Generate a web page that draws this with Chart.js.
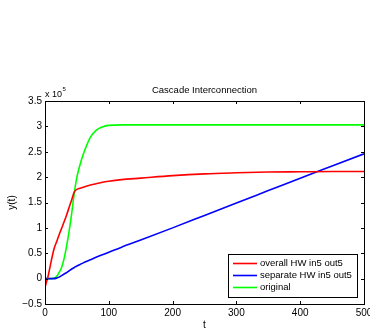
<!DOCTYPE html>
<html>
<head>
<meta charset="utf-8">
<script src="https://cdn.jsdelivr.net/npm/chart.js@4/dist/chart.umd.min.js"></script>
<style>
  body { margin: 0; background: #fff; }
  canvas { display: block; }
</style>
</head>
<body>
<canvas id="cascadeChart" width="370" height="333"></canvas>
<script>
// time samples (t) and responses, in units of 1e5
const tPoints = [0, 5, 10, 14, 18, 22, 26, 30, 34, 38, 42, 46, 50, 55, 60, 70, 80, 90, 100, 120, 150, 200, 250, 300, 350, 400, 450, 500];
const overallHW = [-0.17, 0.06, 0.36, 0.58, 0.72, 0.86, 0.99, 1.12, 1.26, 1.41, 1.56, 1.71, 1.76, 1.78, 1.8, 1.84, 1.87, 1.9, 1.92, 1.95, 1.98, 2.03, 2.065, 2.085, 2.1, 2.105, 2.11, 2.11];
const separateHW = [0, 0, 0, 0, 0.01, 0.03, 0.06, 0.09, 0.12, 0.155, 0.19, 0.22, 0.25, 0.28, 0.31, 0.365, 0.42, 0.47, 0.52, 0.62, 0.76, 1.0, 1.245, 1.49, 1.735, 1.98, 2.22, 2.46];
const original = [0, 0, 0, 0.01, 0.04, 0.12, 0.22, 0.4, 0.65, 0.95, 1.3, 1.7, 2.0, 2.25, 2.45, 2.76, 2.92, 2.99, 3.02, 3.03, 3.03, 3.03, 3.03, 3.03, 3.03, 3.03, 3.03, 3.03];

const seriesLabels = ['overall HW in5 out5', 'separate HW in5 out5', 'original'];
const seriesColors = ['#ff0000', '#0000ff', '#00ff00'];
const xTicks = [0, 100, 200, 300, 400, 500];
const yTicks = [-0.5, 0, 0.5, 1, 1.5, 2, 2.5, 3, 3.5];

const FONT = '"Liberation Sans", Arial, sans-serif';

function toPoints(values) {
  return tPoints.map((t, i) => ({ x: t, y: values[i] }));
}

const datasets = [overallHW, separateHW, original].map((vals, i) => ({
  label: seriesLabels[i],
  data: toPoints(vals),
  borderColor: seriesColors[i],
  backgroundColor: seriesColors[i],
  borderWidth: 1.6,
  pointRadius: 0,
  cubicInterpolationMode: 'monotone',
  fill: false,
}));

// box, inward ticks, labels and legend in MATLAB style
const matlabFrame = {
  id: 'matlabFrame',
  afterDraw(chart) {
    const c = chart.ctx;
    const a = chart.chartArea;
    const xs = chart.scales.x;
    const ys = chart.scales.y;
    c.save();
    c.strokeStyle = '#000';
    c.lineWidth = 1;
    c.beginPath();
    xTicks.forEach((v) => {
      const px = Math.round(xs.getPixelForValue(v)) + 0.5;
      c.moveTo(px, a.bottom); c.lineTo(px, a.bottom - 3);
      c.moveTo(px, a.top); c.lineTo(px, a.top + 3);
    });
    yTicks.forEach((v) => {
      const py = Math.round(ys.getPixelForValue(v)) + 0.5;
      c.moveTo(a.left, py); c.lineTo(a.left + 3, py);
      c.moveTo(a.right, py); c.lineTo(a.right - 3, py);
    });
    c.stroke();
    c.strokeRect(a.left + 0.5, a.top + 0.5, a.right - a.left, a.bottom - a.top);

    c.fillStyle = '#000';
    // title
    c.font = '9.5px ' + FONT;
    c.textAlign = 'center';
    c.textBaseline = 'middle';
    c.fillText('Cascade Interconnection', (a.left + a.right) / 2, 90);
    // axis labels
    c.font = '10px ' + FONT;
    c.fillText('t', (a.left + a.right) / 2, 325);
    c.save();
    c.translate(12, (a.top + a.bottom) / 2);
    c.rotate(-Math.PI / 2);
    c.fillText('y(t)', 0, 0);
    c.restore();
    // exponent
    c.textAlign = 'left';
    c.textBaseline = 'alphabetic';
    c.font = '9px ' + FONT;
    c.fillText('x 10', a.left, 97);
    const w = c.measureText('x 10').width;
    c.font = '6px ' + FONT;
    c.fillText('5', a.left + w + 0.5, 91);

    // legend
    const lx = 228, ly = 254, lw = 129, lh = 43;
    c.fillStyle = '#fff';
    c.fillRect(lx, ly, lw, lh);
    c.strokeRect(lx + 0.5, ly + 0.5, lw, lh);
    c.font = '9.5px ' + FONT;
    c.textBaseline = 'middle';
    chart.data.datasets.forEach((ds, i) => {
      const y = ly + 9.5 + i * 12;
      c.strokeStyle = ds.borderColor;
      c.lineWidth = 1.6;
      c.beginPath();
      c.moveTo(lx + 5, y); c.lineTo(lx + 29, y);
      c.stroke();
      c.fillStyle = '#000';
      c.fillText(ds.label, lx + 32, y);
    });
    c.restore();
  },
};

const ctx = document.getElementById('cascadeChart').getContext('2d');
const cascadeChart = new Chart(ctx, {
  type: 'line',
  data: { datasets: datasets },
  options: {
    responsive: false,
    animation: false,
    devicePixelRatio: 1,
    layout: { padding: { top: 101, right: 6, left: 0, bottom: 0 } },
    plugins: {
      legend: { display: false },
      tooltip: { enabled: false },
    },
    scales: {
      x: {
        type: 'linear',
        min: 0,
        max: 500,
        grid: { display: false, drawTicks: false },
        border: { display: false },
        ticks: {
          stepSize: 100,
          color: '#000',
          font: { family: FONT, size: 10 },
          padding: 3,
          maxRotation: 0,
        },
        afterFit(scale) {
          scale.height = 29;
          scale.paddingLeft = 0;
          scale.paddingRight = 0;
        },
      },
      y: {
        type: 'linear',
        min: -0.5,
        max: 3.5,
        grid: { display: false, drawTicks: false },
        border: { display: false },
        ticks: {
          stepSize: 0.5,
          color: '#000',
          font: { family: FONT, size: 10 },
          padding: 3,
          callback: (v) => (v < 0 ? '\u2212' + Math.abs(v) : String(v)),
        },
        afterFit(scale) {
          scale.width = 45;
          scale.paddingTop = 0;
          scale.paddingBottom = 0;
        },
      },
    },
  },
  plugins: [matlabFrame],
});
</script>
</body>
</html>
